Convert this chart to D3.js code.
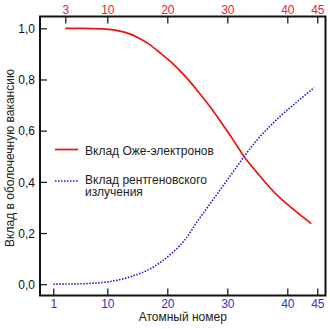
<!DOCTYPE html>
<html>
<head>
<meta charset="utf-8">
<script src="https://cdn.jsdelivr.net/npm/d3@7"></script>
<style>
  html, body { margin: 0; padding: 0; background: #fff; }
  text { font-family: "Liberation Sans", Arial, sans-serif; font-size: 12px; }
</style>
</head>
<body>
<svg id="chart" width="330" height="329"></svg>
<script>
// Atomic number samples and yields (fraction of shell vacancies)
const augerZ = [3, 6, 9, 11, 13, 15, 17, 19, 21, 23, 25, 27, 29, 31, 33, 35, 37, 39, 41, 43, 44];
const augerYield = [1.000, 1.000, 0.998, 0.994, 0.984, 0.965, 0.937, 0.900, 0.860, 0.812, 0.757, 0.697, 0.632, 0.563, 0.492, 0.435, 0.380, 0.332, 0.293, 0.255, 0.237];

const xrayZ = [1, 4, 7, 10, 13, 15, 17, 19, 21, 23, 25, 27, 29, 31, 33, 35, 37, 39, 41, 43, 44.5];
const xrayYield = [0.000, 0.001, 0.003, 0.009, 0.023, 0.038, 0.058, 0.088, 0.126, 0.175, 0.245, 0.310, 0.375, 0.440, 0.505, 0.565, 0.615, 0.660, 0.700, 0.740, 0.768];

const topTicks = [3, 10, 20, 30, 40, 45];
const bottomTicks = [1, 10, 20, 30, 40, 45];
const yTicks = [0, 0.2, 0.4, 0.6, 0.8, 1.0];

const legendLabels = ["Вклад Оже-электронов", ["Вклад рентгеновского", "излучения"]];
const xTitle = "Атомный номер";
const yTitle = "Вклад в оболочечную вакансию";

const RED = "#ee1111", RED_TEXT = "#e0243c";
const BLUE = "#1a1acc", BLUE_TEXT = "#3232c8";

const svg = d3.select("#chart");
const frame = { left: 40, right: 325.5, top: 16.5, bottom: 295.5 };

const x = d3.scaleLinear().domain([1, 45]).range([53.3, 317.3]);
const y = d3.scaleLinear().domain([0, 1]).range([284.2, 28.3]);

const fmt = d => d3.format(".1f")(d).replace(".", ",");

// Axes with inward ticks
const gTop = svg.append("g").attr("transform", `translate(0,${frame.top})`)
  .call(d3.axisTop(x).tickValues(topTicks).tickSize(-7));
gTop.selectAll("text").attr("fill", RED_TEXT).attr("y", 14 - frame.top).attr("dy", 0);

const gBottom = svg.append("g").attr("transform", `translate(0,${frame.bottom})`)
  .call(d3.axisBottom(x).tickValues(bottomTicks).tickSize(-7));
gBottom.selectAll("text").attr("fill", BLUE_TEXT).attr("y", 308 - frame.bottom).attr("dy", 0);

const gLeft = svg.append("g").attr("transform", `translate(${frame.left},0)`)
  .call(d3.axisLeft(y).tickValues(yTicks).tickFormat(fmt).tickSize(-7));
gLeft.selectAll("text").attr("fill", "#111").attr("x", -5).attr("dy", "0.36em");

[gTop, gBottom, gLeft].forEach(g => {
  g.attr("font-size", null).attr("font-family", null);
  g.select(".domain").remove();
  g.selectAll(".tick line").attr("stroke", "#111").attr("stroke-width", 1.2);
});

// Curves
const line = d3.line().curve(d3.curveMonotoneX);

svg.append("path")
  .attr("d", line(augerZ.map((z, i) => [x(z), y(augerYield[i])])))
  .attr("fill", "none").attr("stroke", RED).attr("stroke-width", 1.7);

svg.append("path")
  .attr("d", line(xrayZ.map((z, i) => [x(z), y(xrayYield[i])])))
  .attr("fill", "none").attr("stroke", BLUE).attr("stroke-width", 1.6)
  .attr("stroke-dasharray", "1.5,1.5");

// Plot frame
svg.append("rect")
  .attr("x", frame.left).attr("y", frame.top)
  .attr("width", frame.right - frame.left).attr("height", frame.bottom - frame.top)
  .attr("fill", "none").attr("stroke", "#111").attr("stroke-width", 2);

// Legend
const legend = svg.append("g");
legend.append("line").attr("x1", 55).attr("x2", 78).attr("y1", 149.5).attr("y2", 149.5)
  .attr("stroke", RED).attr("stroke-width", 1.7);
legend.append("text").attr("x", 85).attr("y", 154.5).attr("fill", "#222").text(legendLabels[0]);
legend.append("line").attr("x1", 55).attr("x2", 78).attr("y1", 181).attr("y2", 181)
  .attr("stroke", BLUE).attr("stroke-width", 1.6).attr("stroke-dasharray", "1.5,1.5");
const t2 = legend.append("text").attr("x", 85).attr("y", 184).attr("fill", "#222");
legendLabels[1].forEach((s, i) => t2.append("tspan").attr("x", 85).attr("dy", i ? 12 : 0).text(s));

// Titles
svg.append("text").attr("x", (frame.left + frame.right) / 2).attr("y", 320.5)
  .attr("text-anchor", "middle").attr("fill", "#222").text(xTitle);
svg.append("text").attr("transform", "translate(13.5,158) rotate(-90)")
  .attr("text-anchor", "middle").attr("fill", "#222").text(yTitle);
</script>
</body>
</html>
